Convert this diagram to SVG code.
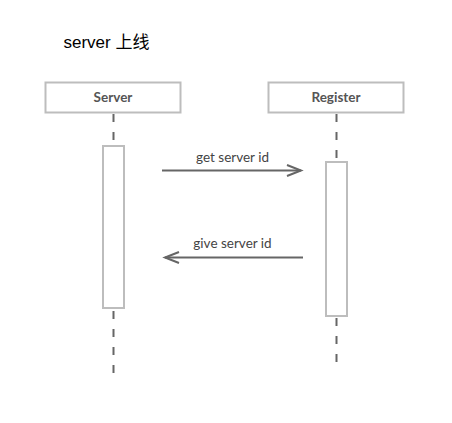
<svg xmlns="http://www.w3.org/2000/svg" width="452" height="423" viewBox="0 0 452 423">
<defs>
<style>
.box{fill:#fff;stroke:#bdbdbd;stroke-width:2}
.act{fill:#fff;stroke:#bdbdbd;stroke-width:2}
.life{stroke:#666;stroke-width:2;stroke-dasharray:8 10;fill:none}
.msg{stroke:#666;stroke-width:2;fill:none}
.head{stroke:#666;stroke-width:2;fill:none}
.lbl{font-family:Lato,"Liberation Sans",sans-serif;font-size:13.5px;fill:#444;text-anchor:middle}
.name{font-family:Lato,"Liberation Sans",sans-serif;font-size:13.5px;font-weight:bold;fill:#555;text-anchor:middle}
.title{font-family:"Liberation Sans","Noto Sans CJK SC",sans-serif;font-size:17px;fill:#000}
</style>
</defs>
<rect width="452" height="423" fill="#fff"/>
<text class="title" x="63.5" y="48">server 上线</text>
<g id="connectors">
<line class="life" x1="113.5" y1="114" x2="113.5" y2="146"/>
<line class="life" x1="113.5" y1="311" x2="113.5" y2="382"/>
<line class="life" x1="336.5" y1="114" x2="336.5" y2="162"/>
<line class="life" x1="336.5" y1="318" x2="336.5" y2="370"/>
<g id="msg-get">
<line class="msg" x1="162" y1="170.5" x2="301" y2="170.5"/>
<polyline class="head" points="287,165 301,170.5 287,176"/>
<text class="lbl" x="232.5" y="162">get server id</text>
</g>
<g id="msg-give">
<line class="msg" x1="303" y1="257.5" x2="165" y2="257.5"/>
<polyline class="head" points="179,252 165,257.5 179,263"/>
<text class="lbl" x="232.5" y="248">give server id</text>
</g>
</g>
<g id="server">
<rect class="box" x="45.5" y="82.5" width="135" height="30"/>
<text class="name" x="113" y="102">Server</text>
<rect class="act" x="103" y="146" width="21" height="162"/>
</g>
<g id="register">
<rect class="box" x="268.5" y="82.5" width="135" height="30"/>
<text class="name" x="336" y="102">Register</text>
<rect class="act" x="326" y="162" width="21" height="154"/>
</g>
</svg>
